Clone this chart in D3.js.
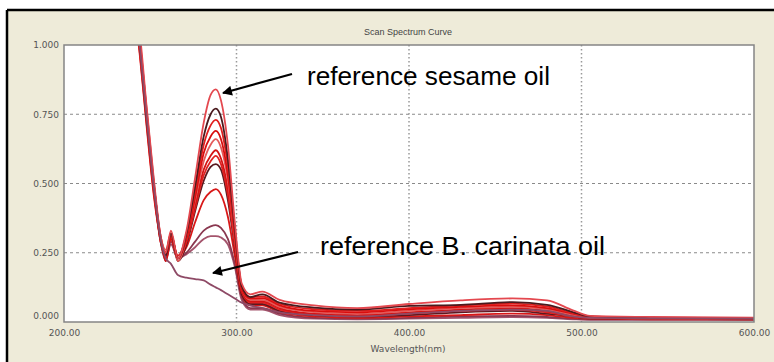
<!DOCTYPE html>
<html>
<head>
<meta charset="utf-8">
<script src="https://cdn.jsdelivr.net/npm/d3@7"></script>
<style>
    body { margin: 0; background: #ffffff; }
    svg { display: block; }
</style>
</head>
<body>
<svg id="workspace" width="774" height="362"></svg>
<script>
/*
 * Scan Spectrum Curve
 * UV absorbance of sesame / B. carinata oil blends
 */

// wavelength grid (nm) shared by every scan
var wavelengths = [238, 244, 248, 252, 256, 259, 262, 266, 271, 276, 281, 285, 288, 291, 295,
                   299, 303, 308, 315, 325, 345, 370, 400, 430, 460, 480, 495, 505, 540, 600];

// absorbance of each scan
var scan1 = [1.30, 1.04, 0.77, 0.52, 0.31, 0.25, 0.33, 0.23, 0.33, 0.52, 0.72, 0.82, 0.84, 0.80, 0.64,
             0.36, 0.14, 0.10, 0.11, 0.08, 0.060, 0.050, 0.065, 0.078, 0.085, 0.078, 0.042, 0.022, 0.018, 0.016];
var scan2 = [1.28, 1.00, 0.73, 0.50, 0.30, 0.24, 0.32, 0.23, 0.32, 0.49, 0.67, 0.75, 0.77, 0.74, 0.59,
             0.34, 0.13, 0.09, 0.10, 0.07, 0.052, 0.045, 0.058, 0.062, 0.072, 0.062, 0.036, 0.020, 0.015, 0.013];
var scan3 = [1.31, 1.02, 0.75, 0.49, 0.29, 0.25, 0.31, 0.24, 0.31, 0.47, 0.64, 0.71, 0.73, 0.70, 0.56,
             0.33, 0.13, 0.09, 0.092, 0.065, 0.046, 0.040, 0.050, 0.060, 0.066, 0.056, 0.032, 0.020, 0.016, 0.014];
var scan4 = [1.27, 0.97, 0.71, 0.47, 0.30, 0.22, 0.30, 0.23, 0.30, 0.45, 0.61, 0.67, 0.69, 0.66, 0.53,
             0.31, 0.12, 0.085, 0.086, 0.060, 0.040, 0.035, 0.046, 0.055, 0.060, 0.050, 0.030, 0.018, 0.014, 0.012];
var scan5 = [1.29, 0.98, 0.73, 0.50, 0.31, 0.26, 0.32, 0.22, 0.30, 0.44, 0.58, 0.64, 0.66, 0.63, 0.51,
             0.30, 0.12, 0.08, 0.080, 0.055, 0.036, 0.030, 0.040, 0.050, 0.055, 0.046, 0.026, 0.016, 0.013, 0.012];
var scan6 = [1.30, 1.01, 0.76, 0.51, 0.29, 0.24, 0.31, 0.23, 0.29, 0.42, 0.55, 0.60, 0.62, 0.59, 0.48,
             0.29, 0.11, 0.075, 0.075, 0.050, 0.030, 0.025, 0.035, 0.045, 0.050, 0.040, 0.024, 0.015, 0.012, 0.011];
var scan7 = [1.26, 0.96, 0.70, 0.46, 0.30, 0.25, 0.30, 0.23, 0.29, 0.41, 0.53, 0.58, 0.60, 0.57, 0.46,
             0.28, 0.11, 0.07, 0.070, 0.045, 0.028, 0.022, 0.030, 0.040, 0.045, 0.035, 0.020, 0.014, 0.012, 0.010];
var scan8 = [1.28, 1.01, 0.73, 0.49, 0.30, 0.24, 0.31, 0.22, 0.28, 0.40, 0.51, 0.56, 0.57, 0.55, 0.44,
             0.27, 0.10, 0.065, 0.065, 0.040, 0.025, 0.020, 0.025, 0.035, 0.040, 0.030, 0.020, 0.013, 0.011, 0.010];
var scan9 = [1.29, 0.99, 0.74, 0.50, 0.31, 0.25, 0.32, 0.23, 0.27, 0.36, 0.44, 0.47, 0.48, 0.46, 0.38,
             0.24, 0.10, 0.06, 0.060, 0.035, 0.020, 0.015, 0.020, 0.025, 0.030, 0.025, 0.015, 0.012, 0.010, 0.010];
var scan10 = [1.27, 0.98, 0.72, 0.48, 0.29, 0.22, 0.29, 0.23, 0.25, 0.29, 0.33, 0.345, 0.35, 0.34, 0.30,
              0.21, 0.09, 0.05, 0.050, 0.030, 0.015, 0.012, 0.015, 0.020, 0.022, 0.018, 0.012, 0.010, 0.010, 0.010];
var scan11 = [1.30, 1.00, 0.73, 0.49, 0.30, 0.23, 0.28, 0.23, 0.245, 0.27, 0.30, 0.31, 0.31, 0.305, 0.28,
              0.20, 0.08, 0.045, 0.045, 0.025, 0.012, 0.010, 0.012, 0.015, 0.018, 0.015, 0.010, 0.008, 0.008, 0.008];
var carinata = [1.29, 0.99, 0.73, 0.49, 0.30, 0.23, 0.21, 0.17, 0.16, 0.155, 0.15, 0.135, 0.125, 0.115, 0.10,
                0.085, 0.07, 0.06, 0.05, 0.035, 0.025, 0.020, 0.030, 0.040, 0.045, 0.040, 0.020, 0.015, 0.013, 0.012];

var scans = [scan1, scan2, scan3, scan4, scan5, scan6, scan7, scan8, scan9, scan10, scan11];
var scanColors = ["#e4484f", "#4a1a1e", "#e01e1e", "#d80e0e", "#e45a5a", "#d41414",
                  "#e02222", "#5a1a20", "#d81818", "#8a3850", "#a4546c"];

// axis ticks
var xTicks = [200, 300, 400, 500, 600];
var yTicks = [0, 0.25, 0.5, 0.75, 1.0];

// annotations: label, text position, arrow start, arrow tip
var notes = [
    { label: "reference sesame oil", tx: 307, ty: 85, width: 243, x1: 292, y1: 74, x2: 223, y2: 93 },
    { label: "reference B. carinata oil", tx: 320, ty: 255, width: 285, x1: 298, y1: 252, x2: 213, y2: 273 }
];

var W = 774, H = 362;
var plot = { left: 64, top: 45, right: 754, bottom: 322 };

var svg = d3.select("#workspace");

var x = d3.scaleLinear().domain([200, 600]).range([plot.left, plot.right]);
var y = d3.scaleLinear().domain([0, 1]).range([plot.bottom, plot.top]);

/**
 * Draw the window-like frame and the white plotting area
 */
function drawFrame() {
    svg.append("rect")
        .attr("x", 7).attr("y", 10)
        .attr("width", W - 7).attr("height", H - 10)
        .style("fill", "#eeebd9");

    svg.append("line")
        .attr("x1", 7).attr("y1", 10).attr("x2", W).attr("y2", 10)
        .style("stroke", "#000").style("stroke-width", 2.5);
    svg.append("line")
        .attr("x1", 7).attr("y1", 10).attr("x2", 7).attr("y2", H)
        .style("stroke", "#000").style("stroke-width", 2.5);

    svg.append("rect")
        .attr("x", plot.left).attr("y", plot.top)
        .attr("width", plot.right - plot.left).attr("height", plot.bottom - plot.top)
        .style("fill", "#ffffff");

    svg.append("text")
        .attr("x", 408).attr("y", 35)
        .attr("text-anchor", "middle")
        .style("font-family", "Arial, 'Liberation Sans', sans-serif")
        .style("font-size", "9px")
        .style("fill", "#444")
        .text("Scan Spectrum Curve");
}

/**
 * Dashed / dotted grid lines at the inner ticks
 */
function drawGrid() {
    var grid = svg.append("g").attr("class", "grid");

    grid.selectAll("line.h")
        .data(yTicks.filter(function (d) { return d > 0 && d < 1; }))
        .enter().append("line")
        .attr("class", "h")
        .attr("x1", plot.left).attr("x2", plot.right)
        .attr("y1", function (d) { return y(d); })
        .attr("y2", function (d) { return y(d); })
        .style("stroke", "#8a8a8a")
        .style("stroke-dasharray", "3,3");

    grid.selectAll("line.v")
        .data(xTicks.filter(function (d) { return d > 200 && d < 600; }))
        .enter().append("line")
        .attr("class", "v")
        .attr("x1", function (d) { return x(d); })
        .attr("x2", function (d) { return x(d); })
        .attr("y1", plot.top).attr("y2", plot.bottom)
        .style("stroke", "#999")
        .style("stroke-width", 1.5)
        .style("stroke-dasharray", "1.5,2.5");
}

/**
 * Tick labels and axis title, Windows-dialog style
 */
function drawAxes() {
    var font = "Tahoma, 'DejaVu Sans', sans-serif";

    var yAxis = d3.axisLeft(y).tickValues(yTicks).tickSize(0).tickPadding(5)
        .tickFormat(d3.format(".3f"));
    var gy = svg.append("g")
        .attr("transform", "translate(" + plot.left + ",0)")
        .call(yAxis);
    gy.select(".domain").remove();
    gy.selectAll("text")
        .style("font-family", font).style("font-size", "9px").style("fill", "#555")
        .attr("dy", function (d) { return d === 0 ? "-0.35em" : "0.32em"; });

    var xAxis = d3.axisBottom(x).tickValues(xTicks).tickSize(0).tickPadding(8)
        .tickFormat(d3.format(".2f"));
    var gx = svg.append("g")
        .attr("transform", "translate(0," + plot.bottom + ")")
        .call(xAxis);
    gx.select(".domain").remove();
    gx.selectAll("text")
        .style("font-family", font).style("font-size", "9px").style("fill", "#555");

    svg.append("text")
        .attr("x", 408).attr("y", 352)
        .attr("text-anchor", "middle")
        .style("font-family", font).style("font-size", "9px").style("fill", "#555")
        .text("Wavelength(nm)");
}

/**
 * Draw each scan as a line clipped to the plot area
 * @param {Array} values - absorbance values
 * @param {string} color - stroke colour
 */
function drawScan(values, color) {
    var line = d3.line()
        .x(function (d, i) { return x(wavelengths[i]); })
        .y(function (d) { return y(d); })
        .curve(d3.curveMonotoneX);

    svg.select("#curves").append("path")
        .datum(values)
        .attr("d", line)
        .style("fill", "none")
        .style("stroke", color)
        .style("stroke-width", 1.8);
}

function drawCurves() {
    svg.append("clipPath").attr("id", "plotClip")
        .append("rect")
        .attr("x", plot.left).attr("y", plot.top)
        .attr("width", plot.right - plot.left).attr("height", plot.bottom - plot.top);

    svg.append("g").attr("id", "curves").attr("clip-path", "url(#plotClip)");

    for (var i = scans.length - 1; i >= 0; i--) {
        drawScan(scans[i], scanColors[i]);
    }
    drawScan(carinata, "#8e4a66");
}

function drawBorder() {
    svg.append("rect")
        .attr("x", plot.left).attr("y", plot.top)
        .attr("width", plot.right - plot.left).attr("height", plot.bottom - plot.top)
        .style("fill", "none")
        .style("stroke", "#858585")
        .style("stroke-width", 1.5);
}

/**
 * Big annotation labels with arrows pointing at the curves
 */
function drawNotes() {
    var defs = svg.append("defs");
    defs.append("marker")
        .attr("id", "arrowHead")
        .attr("viewBox", "0 0 10 10")
        .attr("refX", 9).attr("refY", 5)
        .attr("markerWidth", 6.5).attr("markerHeight", 4.5)
        .attr("markerUnits", "strokeWidth")
        .attr("orient", "auto")
        .append("path")
        .attr("d", "M0,0 L10,5 L0,10 Z")
        .style("fill", "#000");

    svg.selectAll("line.note")
        .data(notes)
        .enter().append("line")
        .attr("class", "note")
        .attr("x1", function (d) { return d.x1; })
        .attr("y1", function (d) { return d.y1; })
        .attr("x2", function (d) { return d.x2; })
        .attr("y2", function (d) { return d.y2; })
        .style("stroke", "#000")
        .style("stroke-width", 2.2)
        .attr("marker-end", "url(#arrowHead)");

    svg.selectAll("text.note")
        .data(notes)
        .enter().append("text")
        .attr("class", "note")
        .attr("x", function (d) { return d.tx; })
        .attr("y", function (d) { return d.ty; })
        .attr("textLength", function (d) { return d.width; })
        .attr("lengthAdjust", "spacingAndGlyphs")
        .style("font-family", "Arial, 'Liberation Sans', sans-serif")
        .style("font-size", "26px")
        .style("fill", "#000")
        .text(function (d) { return d.label; });
}

drawFrame();
drawGrid();
drawCurves();
drawBorder();
drawAxes();
drawNotes();
</script>
</body>
</html>
